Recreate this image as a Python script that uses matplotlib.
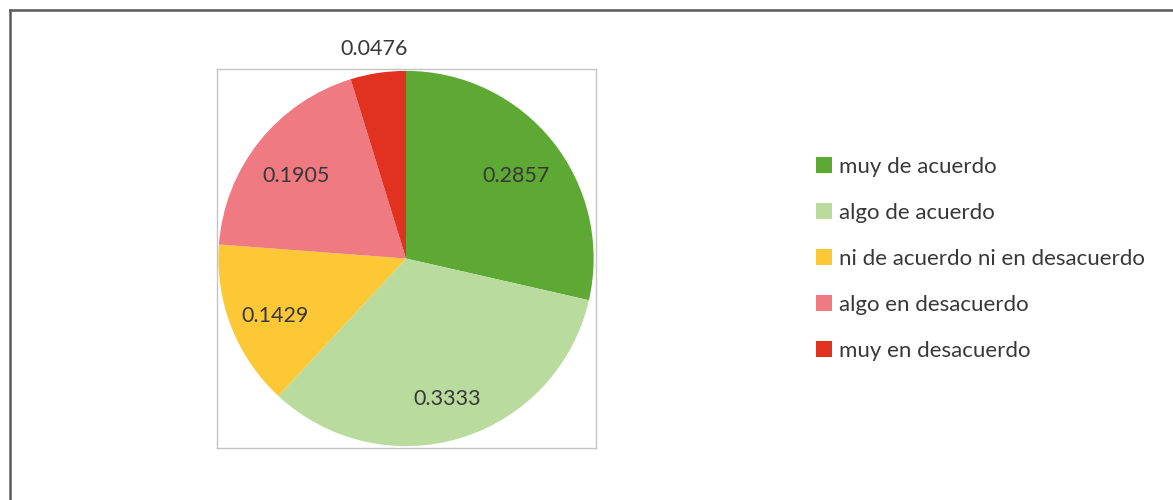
import matplotlib.pyplot as plt
from matplotlib.patches import Patch
import numpy as np

plt.rcParams['font.family'] = ['Lato', 'DejaVu Sans']

categories = ["muy de acuerdo", "algo de acuerdo", "ni de acuerdo ni en desacuerdo",
              "algo en desacuerdo", "muy en desacuerdo"]
shares = [0.2857, 0.3333, 0.1429, 0.1905, 0.0476]
colors = ["#5ea834", "#b9db9e", "#fdc836", "#f07a82", "#e0321f"]

text_color = "#383838"

fig = plt.figure(figsize=(11.73, 5.0), dpi=100)

# outer frame: only the left and top edges are visible
fig.add_artist(plt.Line2D([10 / 1173, 10 / 1173], [0, 1 - 10 / 500],
                          transform=fig.transFigure, color="#5a5a5a", lw=1.8))
fig.add_artist(plt.Line2D([10 / 1173, 1], [1 - 10 / 500, 1 - 10 / 500],
                          transform=fig.transFigure, color="#5a5a5a", lw=1.8))

ax = fig.add_axes([216 / 1173, 1 - 448 / 500, 380 / 1173, 379 / 500])
wedges, _ = ax.pie(shares, colors=colors, startangle=90, counterclock=False,
                   radius=1.0, wedgeprops=dict(linewidth=0))
ax.set_xlim(-1.01, 1.01)
ax.set_ylim(-1.01, 1.01)
ax.set_aspect("equal", adjustable="box")
ax.set_frame_on(True)
ax.set_xticks([])
ax.set_yticks([])
for sp in ax.spines.values():
    sp.set_visible(True)
    sp.set_color("#c4c4c4")
    sp.set_linewidth(1.0)

# value labels inside the slices, the small one sits outside
for w, v in zip(wedges, shares):
    mid = np.deg2rad((w.theta1 + w.theta2) / 2)
    if v < 0.1:
        x, y = 1.13 * np.cos(mid), 1.13 * np.sin(mid)
    else:
        x, y = 0.75 * np.cos(mid), 0.75 * np.sin(mid) - 0.03
    ax.text(x, y, f"{v:.4f}", ha="center", va="center",
            fontsize=15.5, color=text_color, clip_on=False)

handles = [Patch(facecolor=c, edgecolor="none") for c in colors]
leg = fig.legend(handles, categories, loc="center left",
                 bbox_to_anchor=(816 / 1173, 1 - 259 / 500), frameon=False,
                 fontsize=16, handlelength=0.7, handleheight=0.7,
                 handletextpad=0.35, labelspacing=1.17, borderpad=0, borderaxespad=0)
for t in leg.get_texts():
    t.set_color(text_color)

fig.savefig("out.png", dpi=100, facecolor="white")
